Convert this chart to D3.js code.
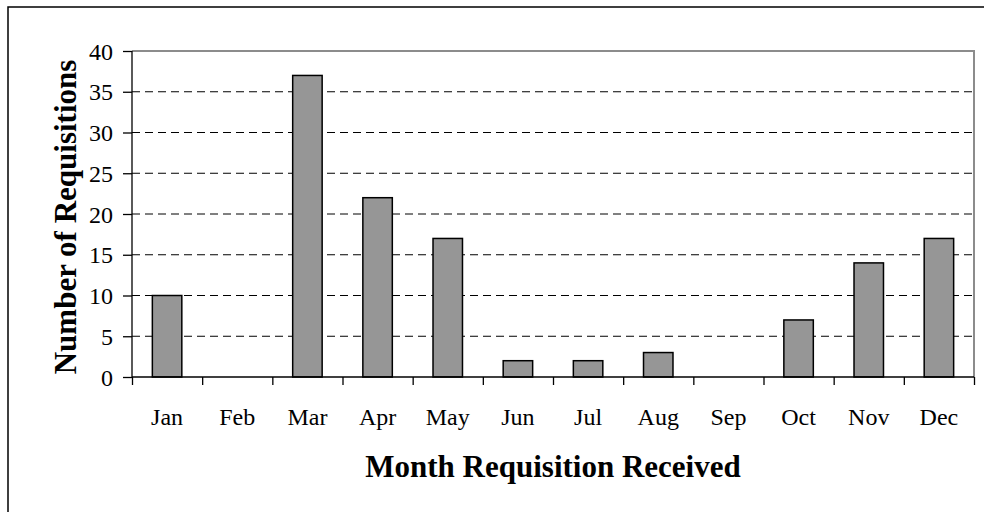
<!DOCTYPE html>
<html>
<head>
<meta charset="utf-8">
<style>
  body { margin: 0; background: #fff; }
  svg { display: block; }
  text { font-family: "Liberation Serif", "Times New Roman", serif; fill: #000; }
</style>
<script src="https://d3js.org/d3.v7.min.js"></script>
</head>
<body>
<svg width="984" height="512"></svg>
<script>
var months = ["Jan", "Feb", "Mar", "Apr", "May", "Jun", "Jul", "Aug", "Sep", "Oct", "Nov", "Dec"];
var requisitions = [10, 0, 37, 22, 17, 2, 2, 3, 0, 7, 14, 17];
var yTicks = [0, 5, 10, 15, 20, 25, 30, 35, 40];

var svg = d3.select("svg"),
    margin = {top: 51, right: 10, bottom: 135, left: 132},
    width = 974 - margin.left,
    height = 377 - margin.top,
    g = svg.append("g").attr("transform", "translate(" + margin.left + "," + margin.top + ")");

// outer frame (only top and left edges fall inside the picture)
svg.append("rect")
    .attr("x", 8).attr("y", 7)
    .attr("width", 1000).attr("height", 600)
    .attr("fill", "none")
    .attr("stroke", "#000")
    .attr("stroke-width", 1.5);

var x = d3.scaleBand()
    .domain(months)
    .range([0, width])
    .paddingInner(0.58)
    .paddingOuter(0.29);

var xEdges = d3.scaleLinear()
    .domain([0, months.length])
    .range([0, width]);

var y = d3.scaleLinear()
    .domain([0, 40])
    .range([height, 0]);

// dashed gridlines
g.append("g")
  .selectAll("line")
  .data(yTicks.filter(function(d) { return d > 0 && d < 40; }))
  .enter().append("line")
    .attr("x1", 0).attr("x2", width)
    .attr("y1", function(d) { return y(d); })
    .attr("y2", function(d) { return y(d); })
    .attr("stroke", "#000")
    .attr("stroke-width", 1)
    .attr("stroke-dasharray", "8,5");

// gray plot border top/right
g.append("path")
    .attr("d", "M0," + y(40) + "H" + width + "V" + height)
    .attr("fill", "none")
    .attr("stroke", "#8c8c8c")
    .attr("stroke-width", 2);

// bars
g.append("g")
  .selectAll("rect")
  .data(requisitions)
  .enter().append("rect")
    .attr("x", function(d, i) { return x(months[i]); })
    .attr("y", function(d) { return y(d); })
    .attr("width", x.bandwidth())
    .attr("height", function(d) { return height - y(d); })
    .attr("fill", "#969696")
    .attr("stroke", "#000")
    .attr("stroke-width", 1.5);

// y axis
var yAxis = g.append("g")
    .call(d3.axisLeft(y).tickValues(yTicks).tickSize(9).tickPadding(10));
yAxis.selectAll("text").style("font-size", "24px").attr("dy", "0.34em");
yAxis.selectAll("line, path").attr("stroke", "#000").attr("stroke-width", 1.3);
yAxis.select(".domain").attr("d", "M0," + height + "V0");

// x axis: tick marks at category edges
var xTickAxis = g.append("g")
    .attr("transform", "translate(0," + height + ")")
    .call(d3.axisBottom(xEdges).tickValues(d3.range(months.length + 1)).tickSize(8).tickFormat(""));
xTickAxis.selectAll("line, path").attr("stroke", "#000").attr("stroke-width", 1.3);
xTickAxis.select(".domain").attr("d", "M0,0H" + width);

// x axis labels
var xLabels = g.append("g")
    .attr("transform", "translate(0," + height + ")")
    .call(d3.axisBottom(x).tickSize(0).tickPadding(48));
xLabels.select(".domain").remove();
xLabels.selectAll("text").style("font-size", "24px").attr("dy", "0");

// axis titles
svg.append("text")
    .attr("x", 553)
    .attr("y", 477)
    .attr("text-anchor", "middle")
    .style("font-size", "31px")
    .style("font-weight", "bold")
    .text("Month Requisition Received");

svg.append("text")
    .attr("transform", "translate(76,217) rotate(-90)")
    .attr("text-anchor", "middle")
    .style("font-size", "31px")
    .style("font-weight", "bold")
    .text("Number of Requisitions");
</script>
</body>
</html>
